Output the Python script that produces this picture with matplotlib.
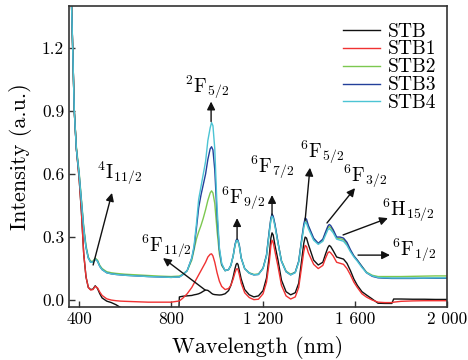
import matplotlib
matplotlib.use("Agg")
import matplotlib.pyplot as plt

plt.rcParams['font.family'] = ['cmr10', 'DejaVu Serif']
plt.rcParams['mathtext.fontset'] = 'cm'
plt.rcParams['axes.unicode_minus'] = False
plt.rcParams['axes.formatter.use_mathtext'] = True

wl = [360, 366, 372, 379, 388, 400, 410, 420, 430, 440,
      450, 460, 470, 480, 490, 500, 520, 540, 560, 580,
      600, 650, 700, 750, 800, 832, 836, 850, 870, 890,
      900, 910, 920, 930, 940, 950, 960, 970, 976, 982,
      990, 1000, 1010, 1020, 1035, 1050, 1060, 1070, 1078, 1083, 1087, 1091,
      1097, 1105, 1120, 1140, 1160, 1180, 1200, 1215, 1227, 1234, 1239, 1244,
      1252, 1265, 1280, 1300, 1320, 1340, 1355, 1368, 1377, 1383, 1389, 1397,
      1420, 1440, 1460, 1472, 1482, 1488, 1494, 1505, 1520, 1535, 1550, 1565,
      1580, 1595, 1610, 1630, 1650, 1675, 1700, 1730, 1760, 1768,
      1800, 1850, 1900, 1950, 2000]

stb = [1.60, 1.45, 1.20, 0.90, 0.72, 0.58, 0.42, 0.22, 0.11, 0.06,
       0.05, 0.052, 0.068, 0.055, 0.03, 0.01, -0.005, -0.012, -0.022, -0.035,
       -0.06, -0.1, -0.1, -0.1, -0.1, -0.1, 0.015, 0.018, 0.02, 0.022,
       0.025, 0.027, 0.03, 0.035, 0.042, 0.048, 0.046, 0.038, 0.032, 0.028,
       0.026, 0.025, 0.024, 0.025, 0.03, 0.045, 0.07, 0.11, 0.15, 0.17, 0.175, 0.17,
       0.14, 0.10, 0.05, 0.025, 0.015, 0.02, 0.045, 0.105, 0.21, 0.295, 0.32, 0.31,
       0.26, 0.19, 0.095, 0.04, 0.025, 0.035, 0.08, 0.19, 0.27, 0.30, 0.295, 0.265,
       0.19, 0.167, 0.18, 0.22, 0.25, 0.26, 0.255, 0.235, 0.205, 0.2, 0.195, 0.175,
       0.14, 0.10, 0.07, 0.04, 0.024, 0.005, -0.015, -0.016, -0.016, 0.005,
       0.005, 0.004, 0.004, 0.003, 0.003]

stb1 = [1.60, 1.45, 1.20, 0.90, 0.72, 0.58, 0.42, 0.22, 0.11, 0.06,
        0.048, 0.05, 0.065, 0.058, 0.038, 0.022, 0.006, 0.0, -0.003, -0.005,
        -0.006, -0.008, -0.01, -0.01, -0.01, -0.005, -0.004, 0.008, 0.03, 0.06,
        0.08, 0.10, 0.12, 0.14, 0.16, 0.18, 0.205, 0.218, 0.22, 0.21,
        0.18, 0.13, 0.09, 0.065, 0.05, 0.055, 0.07, 0.10, 0.13, 0.145, 0.15, 0.145,
        0.12, 0.08, 0.035, 0.012, 0.002, 0.004, 0.03, 0.085, 0.18, 0.26, 0.285, 0.275,
        0.23, 0.16, 0.07, 0.02, 0.005, 0.015, 0.06, 0.16, 0.23, 0.26, 0.255, 0.225,
        0.17, 0.15, 0.165, 0.2, 0.225, 0.23, 0.225, 0.21, 0.18, 0.175, 0.17, 0.15,
        0.12, 0.085, 0.06, 0.03, 0.014, 0.0, -0.01, -0.012, -0.012, -0.01,
        -0.006, -0.004, -0.003, -0.003, -0.003]

stb2 = [1.60, 1.45, 1.20, 0.90, 0.73, 0.61, 0.48, 0.35, 0.26, 0.205,
        0.185, 0.185, 0.20, 0.19, 0.165, 0.15, 0.135, 0.13, 0.127, 0.125,
        0.123, 0.12, 0.117, 0.114, 0.112, 0.114, 0.114, 0.122, 0.14, 0.19,
        0.24, 0.29, 0.325, 0.355, 0.39, 0.43, 0.475, 0.51, 0.52, 0.51,
        0.46, 0.33, 0.22, 0.165, 0.14, 0.145, 0.165, 0.21, 0.26, 0.28, 0.285, 0.28,
        0.255, 0.20, 0.15, 0.13, 0.122, 0.124, 0.152, 0.212, 0.325, 0.385, 0.405, 0.395,
        0.355, 0.272, 0.188, 0.138, 0.123, 0.133, 0.183, 0.285, 0.35, 0.38, 0.375, 0.35,
        0.29, 0.27, 0.285, 0.32, 0.345, 0.35, 0.345, 0.33, 0.295, 0.292, 0.288, 0.268,
        0.235, 0.21, 0.19, 0.16, 0.133, 0.118, 0.112, 0.112, 0.112, 0.112,
        0.112, 0.113, 0.114, 0.115, 0.115]

stb3 = [1.60, 1.45, 1.20, 0.90, 0.72, 0.60, 0.47, 0.34, 0.25, 0.20,
        0.18, 0.18, 0.195, 0.185, 0.16, 0.145, 0.13, 0.125, 0.122, 0.12,
        0.118, 0.115, 0.112, 0.11, 0.108, 0.11, 0.11, 0.12, 0.14, 0.20,
        0.25, 0.34, 0.44, 0.50, 0.55, 0.60, 0.67, 0.72, 0.73, 0.715,
        0.62, 0.40, 0.24, 0.17, 0.14, 0.145, 0.165, 0.21, 0.265, 0.285, 0.29, 0.285,
        0.26, 0.20, 0.15, 0.128, 0.12, 0.122, 0.152, 0.215, 0.33, 0.39, 0.41, 0.40,
        0.36, 0.275, 0.185, 0.135, 0.12, 0.132, 0.185, 0.29, 0.36, 0.39, 0.385, 0.355,
        0.295, 0.27, 0.29, 0.325, 0.352, 0.36, 0.355, 0.335, 0.30, 0.30, 0.295, 0.275,
        0.24, 0.21, 0.19, 0.16, 0.13, 0.113, 0.106, 0.104, 0.103, 0.103,
        0.103, 0.103, 0.104, 0.104, 0.104]

stb4 = [1.60, 1.45, 1.20, 0.90, 0.72, 0.60, 0.47, 0.34, 0.25, 0.20,
        0.18, 0.18, 0.195, 0.185, 0.16, 0.145, 0.13, 0.125, 0.122, 0.12,
        0.118, 0.115, 0.112, 0.11, 0.108, 0.11, 0.11, 0.12, 0.14, 0.20,
        0.26, 0.36, 0.48, 0.54, 0.60, 0.66, 0.76, 0.82, 0.845, 0.83,
        0.72, 0.44, 0.25, 0.175, 0.14, 0.145, 0.165, 0.21, 0.26, 0.28, 0.285, 0.28,
        0.255, 0.20, 0.15, 0.128, 0.12, 0.122, 0.15, 0.21, 0.32, 0.38, 0.40, 0.39,
        0.35, 0.27, 0.185, 0.135, 0.12, 0.13, 0.18, 0.28, 0.345, 0.37, 0.365, 0.34,
        0.285, 0.265, 0.28, 0.31, 0.335, 0.34, 0.335, 0.32, 0.29, 0.285, 0.28, 0.26,
        0.23, 0.205, 0.185, 0.155, 0.13, 0.115, 0.108, 0.106, 0.105, 0.105,
        0.105, 0.105, 0.105, 0.106, 0.106]

series = [("STB", stb, "#111111"), ("STB1", stb1, "#f03232"),
          ("STB2", stb2, "#7cc850"), ("STB3", stb3, "#23409a"),
          ("STB4", stb4, "#4cc4d4")]

xticks = [400, 800, 1200, 1600, 2000]
xticklabels = ["400", "800", "1 200", "1 600", "2 000"]
yticks = [0.0, 0.3, 0.6, 0.9, 1.2]
yticklabels = ["0.0", "0.3", "0.6", "0.9", "1.2"]

# (label, text position, arrow tail, arrow head)
annotations = [
    (r'$^{4}\mathrm{I}_{11/2}$', (575, 0.605), (461, 0.167), (543, 0.51)),
    (r'$^{2}\mathrm{F}_{5/2}$', (957, 1.01), (974, 0.85), (974, 0.945)),
    (r'$^{6}\mathrm{F}_{11/2}$', (778, 0.255), (948, 0.048), (765, 0.20)),
    (r'$^{6}\mathrm{F}_{9/2}$', (1113, 0.485), (1087, 0.29), (1087, 0.39)),
    (r'$^{6}\mathrm{F}_{7/2}$', (1239, 0.63), (1239, 0.405), (1239, 0.50)),
    (r'$^{6}\mathrm{F}_{5/2}$', (1457, 0.705), (1383, 0.38), (1404, 0.63)),
    (r'$^{6}\mathrm{F}_{3/2}$', (1643, 0.59), (1478, 0.367), (1600, 0.533)),
    (r'$^{6}\mathrm{H}_{15/2}$', (1830, 0.425), (1548, 0.31), (1743, 0.39)),
    (r'$^{6}\mathrm{F}_{1/2}$', (1855, 0.238), (1613, 0.214), (1752, 0.214)),
]

fig = plt.figure(figsize=(4.68, 3.60), dpi=100)
ax = fig.add_axes([69/468, 53/360, 378/468, 301/360])

for name, vals, col in series:
    ax.plot(wl, vals, color=col, lw=1.0, label=name,
            solid_joinstyle='round')

ax.set_xlim(356, 2000)
ax.set_ylim(-0.033, 1.40)
ax.set_xticks(xticks)
ax.set_xticklabels(xticklabels)
ax.set_yticks(yticks)
ax.set_yticklabels(yticklabels)
ax.tick_params(direction='in', length=4, width=1.0, labelsize=12.5, color='#333333')
for sp in ax.spines.values():
    sp.set_color('#333333')
    sp.set_linewidth(1.2)

ax.set_xlabel("Wavelength (nm)", fontsize=16, labelpad=6)
ax.set_ylabel("Intensity (a.u.)", fontsize=16, labelpad=7)

for label, tpos, tail, head in annotations:
    ax.annotate('', xy=head, xytext=tail,
                arrowprops=dict(arrowstyle='-|>', color='#111111', lw=1.0,
                                mutation_scale=12, shrinkA=0, shrinkB=0))
    ax.text(tpos[0], tpos[1], label, fontsize=14, ha='center', va='center')

leg = ax.legend(loc='upper right', frameon=False, fontsize=14,
                handlelength=1.9, handletextpad=0.4, labelspacing=0.0,
                borderaxespad=0.3, bbox_to_anchor=(1.008, 0.99))

fig.savefig("out.png", dpi=100)
